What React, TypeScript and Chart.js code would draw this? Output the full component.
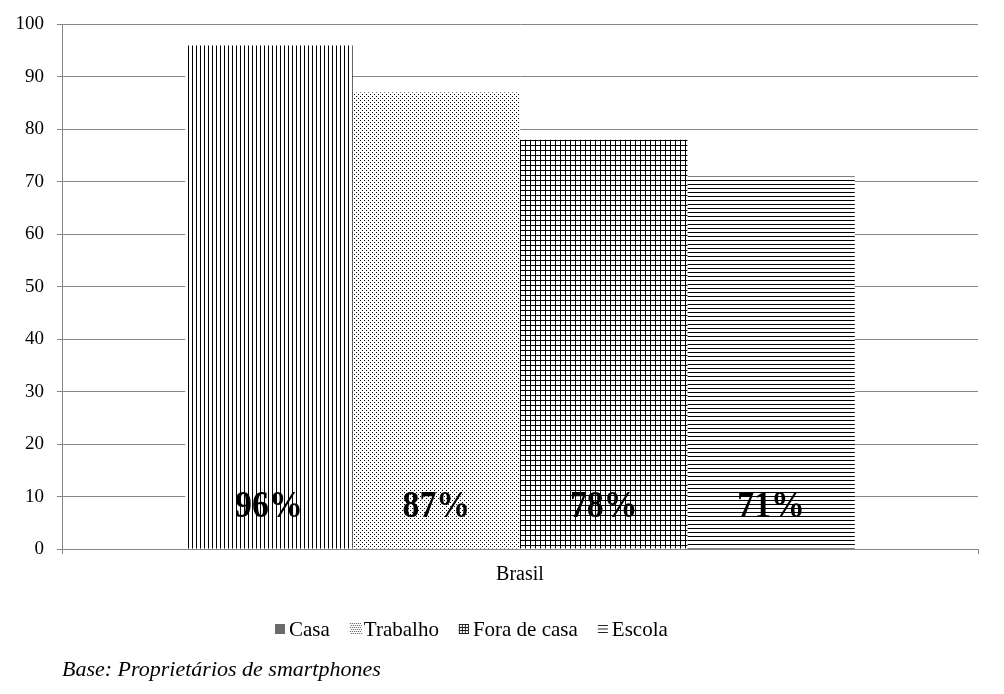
import React, { useEffect, useRef } from "react";
import { Chart, registerables } from "chart.js";

Chart.register(...registerables);

const categories = ["Brasil"];
const seriesNames = ["Casa", "Trabalho", "Fora de casa", "Escola"];
const casaValues = [96];
const trabalhoValues = [87];
const foraValues = [78];
const escolaValues = [71];
const valueLabels = ["96%", "87%", "78%", "71%"];
const yTicks = [0, 10, 20, 30, 40, 50, 60, 70, 80, 90, 100];
const footerText = "Base: Proprietários de smartphones";

const SERIF = "'Liberation Serif', 'Times New Roman', serif";

function makePattern(kind: string): CanvasPattern | string {
  const c = document.createElement("canvas");
  const size = kind === "grid" ? 5 : 4;
  c.width = size;
  c.height = size;
  const g = c.getContext("2d");
  if (!g) return "#000";
  g.fillStyle = "#fff";
  g.fillRect(0, 0, size, size);
  g.fillStyle = "#000";
  if (kind === "vertical") {
    g.fillRect(0, 0, 1, size);
  } else if (kind === "dots") {
    g.fillRect(0, 0, 1, 1);
    g.fillRect(2, 2, 1, 1);
  } else if (kind === "grid") {
    g.fillRect(0, 0, 1, size);
    g.fillRect(0, 0, size, 1);
  } else if (kind === "horizontal") {
    g.fillRect(0, 0, size, 1);
  }
  const p = g.createPattern(c, "repeat");
  return p || "#000";
}

const overlayPlugin = {
  id: "overlay",
  afterDatasetsDraw(chart: any) {
    const ctx = chart.ctx as CanvasRenderingContext2D;
    const yScale = chart.scales.y;
    ctx.save();
    ctx.fillStyle = "#000";
    ctx.font = `bold 38px ${SERIF}`;
    ctx.textAlign = "center";
    ctx.textBaseline = "middle";
    const yMid = yScale.getPixelForValue(7.9);
    chart.data.datasets.forEach((_ds: any, i: number) => {
      const meta = chart.getDatasetMeta(i);
      const el = meta.data[0];
      if (!el) return;
      ctx.save();
      ctx.translate(el.x, yMid);
      ctx.scale(0.89, 1);
      ctx.fillText(valueLabels[i], 0, 0);
      ctx.restore();
    });
    ctx.restore();
  },
  afterDraw(chart: any) {
    const ctx = chart.ctx as CanvasRenderingContext2D;
    ctx.save();
    // legend
    ctx.font = `21px ${SERIF}`;
    ctx.textBaseline = "middle";
    ctx.textAlign = "left";
    const legendY = 630;
    let x = 275;
    const box = 10;
    seriesNames.forEach((name, i) => {
      const top = legendY - 6;
      if (i === 0) {
        ctx.fillStyle = "#6b6b6b";
        ctx.fillRect(x, top, box, box);
      } else if (i === 1) {
        ctx.fillStyle = "#555";
        for (let yy = 0; yy < box + 2; yy += 2) {
          for (let xx = (yy / 2) % 2 === 0 ? 0 : 1; xx < box + 2; xx += 2) {
            ctx.fillRect(x + xx, top - 1 + yy, 1, 1);
          }
        }
      } else if (i === 2) {
        ctx.fillStyle = "#222";
        for (let k = 0; k <= 3; k++) {
          ctx.fillRect(x + k * 3, top, 1, box);
          ctx.fillRect(x, top + k * 3, box, 1);
        }
      } else {
        ctx.fillStyle = "#222";
        for (let k = 0; k < 3; k++) {
          ctx.fillRect(x, top + 1 + k * 3.5, box, 1);
        }
      }
      const tx = x + box + 4;
      ctx.fillStyle = "#000";
      ctx.fillText(name, tx, legendY);
      x = tx + ctx.measureText(name).width + 20;
    });
    // footer
    ctx.font = `italic 22px ${SERIF}`;
    ctx.textBaseline = "alphabetic";
    ctx.fillStyle = "#000";
    ctx.fillText(footerText, 62, 676);
    ctx.restore();
  },
};

export default function App() {
  const ref = useRef<HTMLCanvasElement | null>(null);
  useEffect(() => {
    if (!ref.current) return;
    const patterns = [
      makePattern("vertical"),
      makePattern("dots"),
      makePattern("grid"),
      makePattern("horizontal"),
    ];
    const values = [casaValues, trabalhoValues, foraValues, escolaValues];
    const chart = new Chart(ref.current, {
      type: "bar",
      data: {
        labels: categories,
        datasets: seriesNames.map((name, i) => ({
          label: name,
          data: values[i],
          backgroundColor: patterns[i] as any,
          borderWidth: 0,
          categoryPercentage: 0.731,
          barPercentage: 1,
        })),
      },
      options: {
        responsive: false,
        animation: false,
        layout: { padding: { left: 0, right: 26, top: 22, bottom: 105 } },
        plugins: {
          legend: { display: false },
          tooltip: { enabled: false },
        },
        scales: {
          x: {
            grid: {
              display: true,
              drawOnChartArea: false,
              drawTicks: true,
              tickLength: 5,
              color: "#868686",
            },
            border: { display: true, color: "#868686" },
            ticks: {
              font: { family: SERIF, size: 20 },
              color: "#000",
              padding: 9,
            },
            afterFit: (s: any) => {
              s.height = 40;
            },
          },
          y: {
            min: 0,
            max: 100,
            afterBuildTicks: (s: any) => {
              s.ticks = yTicks.map((v) => ({ value: v }));
            },
            grid: {
              color: "#868686",
              tickLength: 5,
              drawTicks: true,
            },
            border: { display: true, color: "#868686" },
            ticks: {
              font: { family: SERIF, size: 19 },
              color: "#000",
              padding: 13,
            },
            afterFit: (s: any) => {
              s.width = 62;
            },
          },
        },
      },
      plugins: [overlayPlugin],
    });
    return () => chart.destroy();
  }, []);
  return (
    <div
      style={{
        position: "fixed",
        left: 0,
        top: 0,
        width: 1004,
        height: 694,
        background: "#fff",
      }}
    >
      <canvas ref={ref} width={1004} height={694} />
    </div>
  );
}
